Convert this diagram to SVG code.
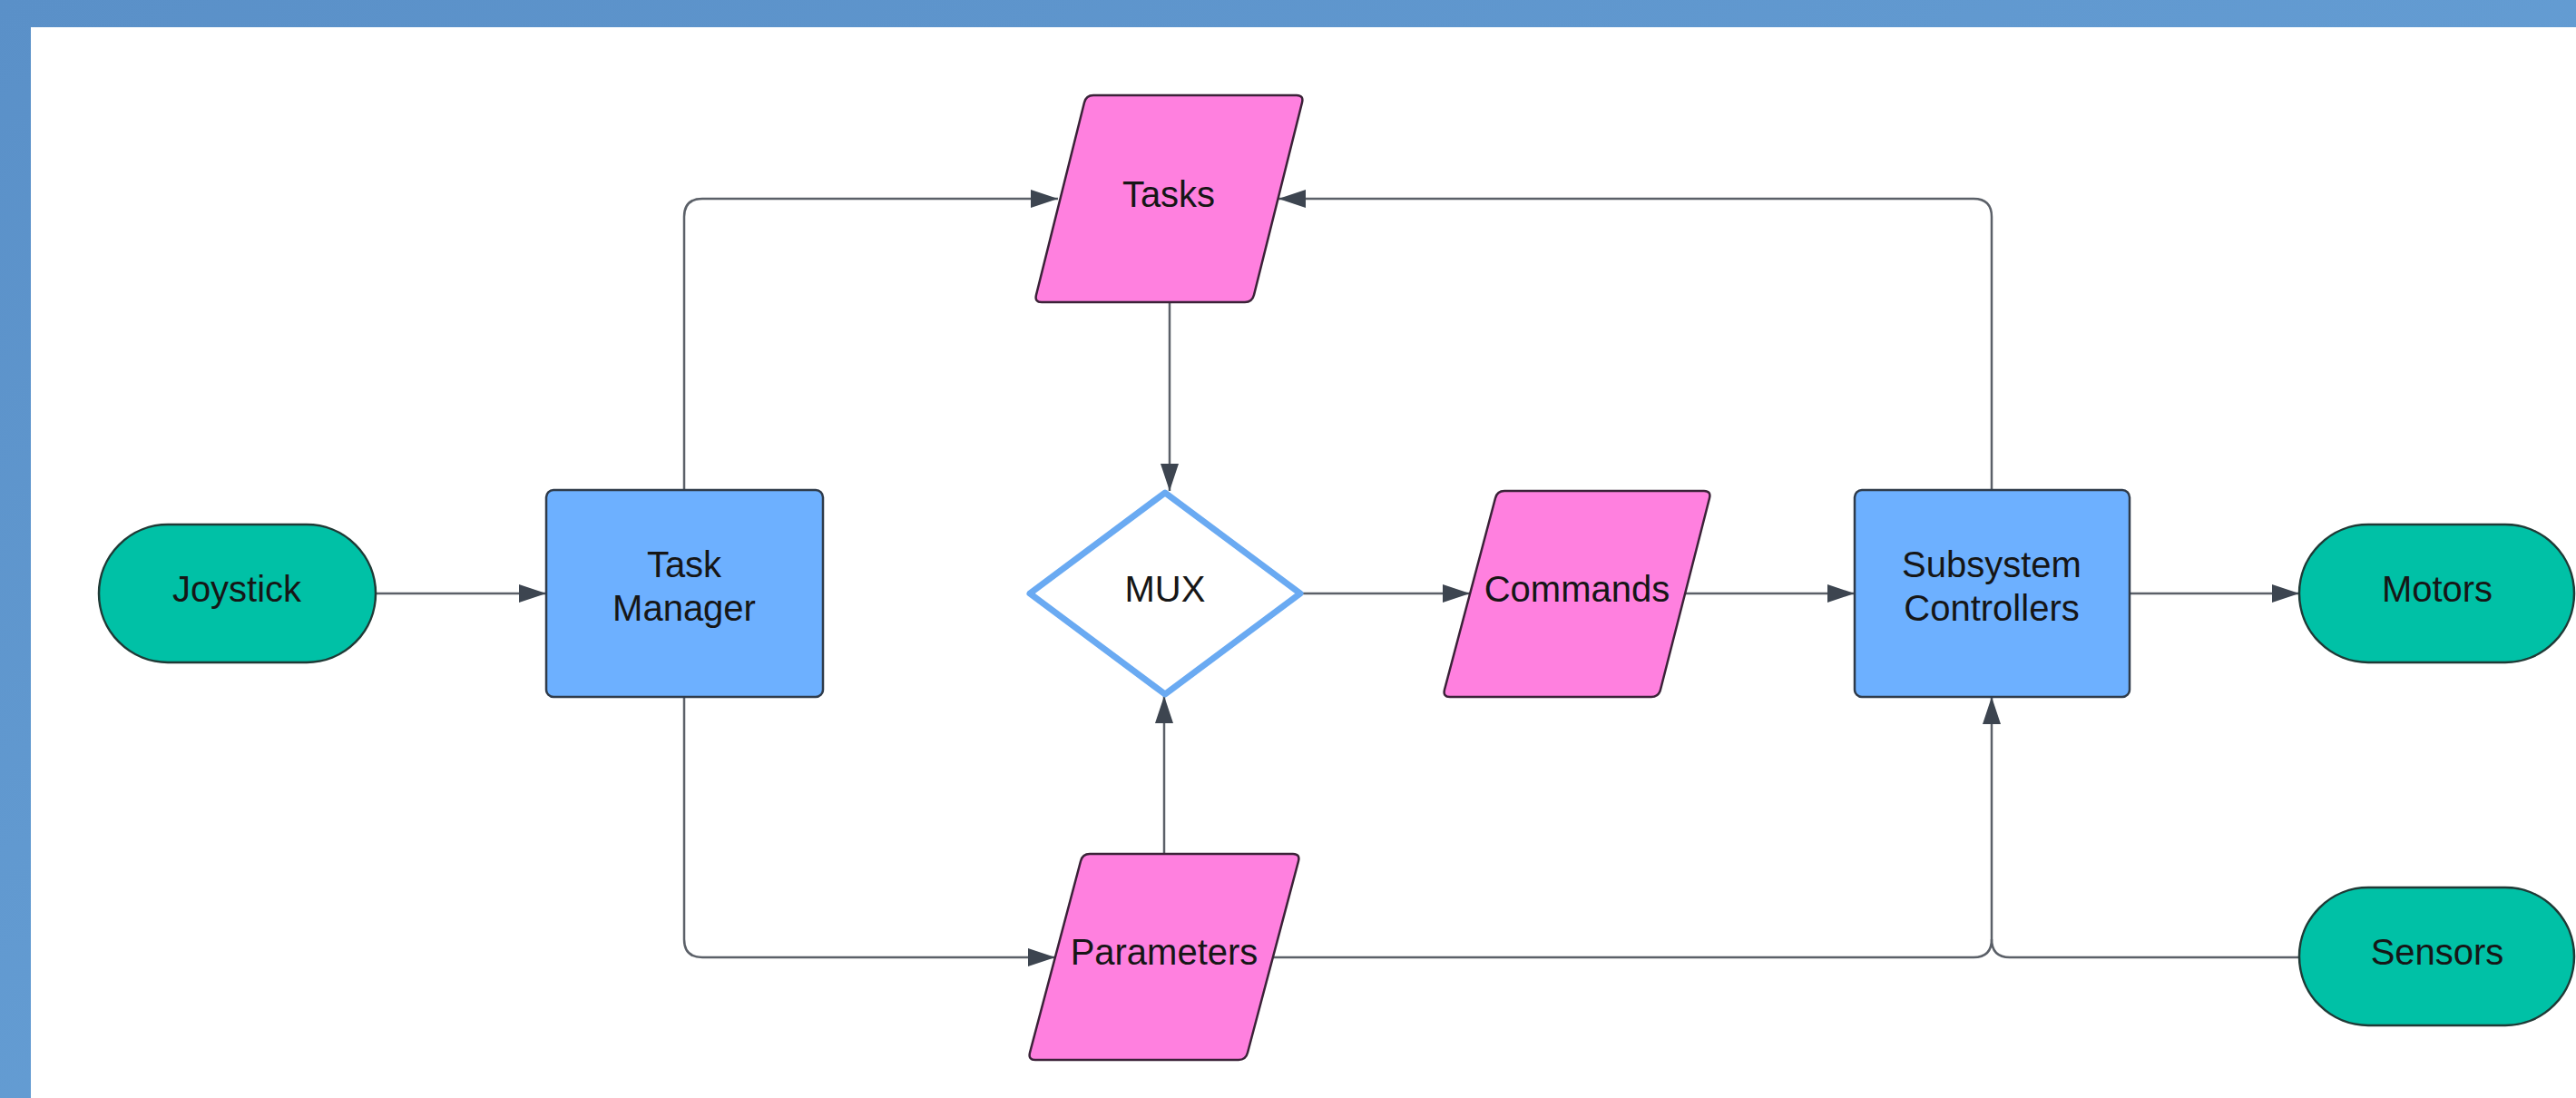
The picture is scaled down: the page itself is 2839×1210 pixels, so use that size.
<svg xmlns="http://www.w3.org/2000/svg" width="2839" height="1210" viewBox="0 0 2839 1210">
  <defs>
    <linearGradient id="bg" x1="0" y1="0" x2="1" y2="1">
      <stop offset="0" stop-color="#5a90c8"/>
      <stop offset="1" stop-color="#6ca7dc"/>
    </linearGradient>
    <marker id="arr" markerWidth="30" markerHeight="20" refX="30" refY="10" orient="auto" markerUnits="userSpaceOnUse">
      <path d="M0,0 L30,10 L0,20 z" fill="#3d4550"/>
    </marker>
  </defs>
  <style>
    .term { fill: #00c1a6; stroke: #1f3a36; stroke-width: 2.5; }
    .proc { fill: #6db0ff; stroke: #2f3b4a; stroke-width: 2.5; }
    .data { fill: #ff80df; stroke: #3b2238; stroke-width: 2.5; stroke-linejoin: round; }
    .dec { fill: #ffffff; stroke: #6aaaf2; stroke-width: 7; stroke-linejoin: round; }
    .lbl { font-family: "Liberation Sans", Arial, sans-serif; font-size: 40px; fill: #161616; text-anchor: middle; }
    .conn { fill: none; stroke: #5b6068; stroke-width: 2.5; }
  </style>

  <rect x="0" y="0" width="2839" height="1210" fill="url(#bg)"/>
  <rect x="34" y="30" width="2805" height="1180" fill="#ffffff"/>

  <g id="connectors">
    <path class="conn" d="M414,654 H602" marker-end="url(#arr)"/>
    <path class="conn" d="M754,540 V239 Q754,219 774,219 H1166" marker-end="url(#arr)"/>
    <path class="conn" d="M754,768 V1035 Q754,1055 774,1055 H1163" marker-end="url(#arr)"/>
    <path class="conn" d="M2195,540 V239 Q2195,219 2175,219 H1409" marker-end="url(#arr)"/>
    <path class="conn" d="M1289,333 V541" marker-end="url(#arr)"/>
    <path class="conn" d="M1283,941 V767" marker-end="url(#arr)"/>
    <path class="conn" d="M1433,654 H1620" marker-end="url(#arr)"/>
    <path class="conn" d="M1857,654 H2044" marker-end="url(#arr)"/>
    <path class="conn" d="M2347,654 H2534" marker-end="url(#arr)"/>
    <path class="conn" d="M1403,1055 H2175 Q2195,1055 2195,1035 V768" marker-end="url(#arr)"/>
    <path class="conn" d="M2534,1055 H2215 Q2195,1055 2195,1035"/>
  </g>

  <g id="joystick">
    <rect class="term" x="109" y="578" width="305" height="152" rx="76" ry="76"/>
    <text class="lbl" x="261" y="663">Joystick</text>
  </g>

  <g id="task-manager">
    <rect class="proc" x="602" y="540" width="305" height="228" rx="8" ry="8"/>
    <text class="lbl" x="754" y="636">Task</text>
    <text class="lbl" x="754" y="684">Manager</text>
  </g>

  <g id="tasks">
    <path class="data" d="M1205,105 H1429 Q1437,105 1435,113 L1382,325 Q1380,333 1372,333 H1148 Q1140,333 1142,325 L1195,113 Q1197,105 1205,105 Z"/>
    <text class="lbl" x="1288" y="228">Tasks</text>
  </g>

  <g id="mux">
    <path class="dec" d="M1284,543 L1433,654 L1284,765 L1135,654 Z"/>
    <text class="lbl" x="1284" y="663">MUX</text>
  </g>

  <g id="commands">
    <path class="data" d="M1658,541 H1878 Q1886,541 1884,549 L1830,760 Q1828,768 1820,768 H1598 Q1590,768 1592,760 L1648,549 Q1650,541 1658,541 Z"/>
    <text class="lbl" x="1738" y="663">Commands</text>
  </g>

  <g id="parameters">
    <path class="data" d="M1201,941 H1425 Q1433,941 1431,949 L1375,1160 Q1373,1168 1365,1168 H1141 Q1133,1168 1135,1160 L1191,949 Q1193,941 1201,941 Z"/>
    <text class="lbl" x="1283" y="1063">Parameters</text>
  </g>

  <g id="subsystem-controllers">
    <rect class="proc" x="2044" y="540" width="303" height="228" rx="8" ry="8"/>
    <text class="lbl" x="2195" y="636">Subsystem</text>
    <text class="lbl" x="2195" y="684">Controllers</text>
  </g>

  <g id="motors">
    <rect class="term" x="2534" y="578" width="303" height="152" rx="76" ry="76"/>
    <text class="lbl" x="2686" y="663">Motors</text>
  </g>

  <g id="sensors">
    <rect class="term" x="2534" y="978" width="303" height="152" rx="76" ry="76"/>
    <text class="lbl" x="2686" y="1063">Sensors</text>
  </g>
</svg>
